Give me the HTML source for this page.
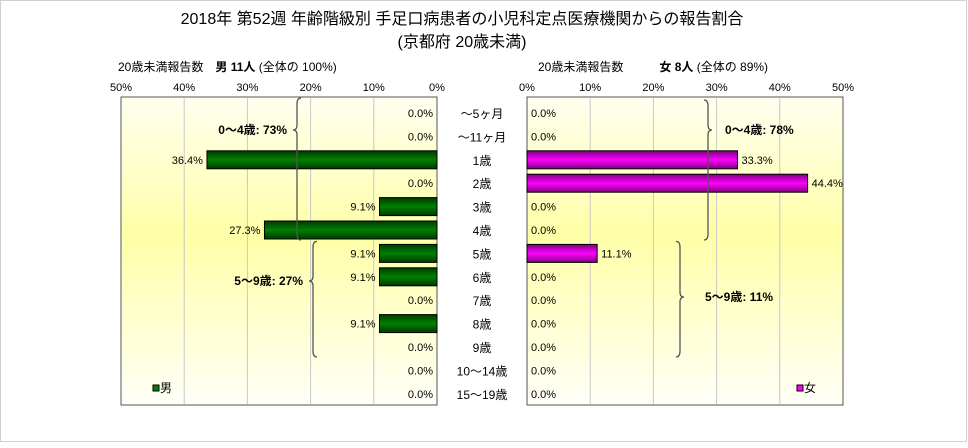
<!DOCTYPE html>
<html><head><meta charset="utf-8">
<style>
body{margin:0;background:#fff;}
svg text{font-family:"Liberation Sans","Noto Sans CJK JP",sans-serif;}
</style></head>
<body>
<svg id="c" width="968" height="443" xmlns="http://www.w3.org/2000/svg">
<defs>
<linearGradient id="bg" x1="0" y1="0" x2="0" y2="1"><stop offset="0" stop-color="#fffff0"/><stop offset="0.45" stop-color="#ffffa8"/><stop offset="1" stop-color="#fffff8"/></linearGradient>
<linearGradient id="gm" x1="0" y1="0" x2="0" y2="1"><stop offset="0" stop-color="#003a00"/><stop offset="0.5" stop-color="#008000"/><stop offset="1" stop-color="#003a00"/></linearGradient>
<linearGradient id="gf" x1="0" y1="0" x2="0" y2="1"><stop offset="0" stop-color="#800080"/><stop offset="0.5" stop-color="#ff00ff"/><stop offset="1" stop-color="#800080"/></linearGradient>
</defs>
<rect x="0.5" y="0.5" width="966" height="441" fill="#fff" stroke="#d0d0d0"/>
<text x="462" y="24" font-size="16" text-anchor="middle">2018年 第52週 年齢階級別 手足口病患者の小児科定点医療機関からの報告割合</text>
<text x="462" y="47" font-size="16" text-anchor="middle">(京都府 20歳未満)</text>
<text x="118" y="71" font-size="12">20歳未満報告数　<tspan font-weight="bold">男  11人</tspan> (全体の  100%)</text>
<text x="538" y="71" font-size="12">20歳未満報告数　　　<tspan font-weight="bold">女  8人</tspan> (全体の  89%)</text>
<g id="g"></g>
</svg>
<script>
const categories=["～5ヶ月","～11ヶ月","1歳","2歳","3歳","4歳","5歳","6歳","7歳","8歳","9歳","10～14歳","15～19歳"];
const maleValues=[0,0,36.4,0,9.1,27.3,9.1,9.1,0,9.1,0,0,0];
const femaleValues=[0,0,33.3,44.4,0,0,11.1,0,0,0,0,0,0];
const tickLabels=["50%","40%","30%","20%","10%","0%"];
const tickValues=[50,40,30,20,10,0];
const groupLabelsMale=["0～4歳: 73%","5～9歳: 27%"];
const groupLabelsFemale=["0～4歳: 78%","5～9歳: 11%"];
const NS="http://www.w3.org/2000/svg";
const g=document.getElementById('g');
const L0=437,R0=527,W=316,TOP=97,BOT=405,MAX=50;
const xL=v=>L0-v/MAX*W, xR=v=>R0+v/MAX*W;
const rh=23.4;
const yc=i=>113+rh*i;
function mk(t,a,txt){const e=document.createElementNS(NS,t);for(const k in a)e.setAttribute(k,a[k]);if(txt!==undefined)e.textContent=txt;g.appendChild(e);return e;}
let p=mk('rect',{x:xL(MAX),y:TOP,width:W,height:BOT-TOP,fill:'url(#bg)',stroke:'#555'});


p=mk('rect',{x:R0,y:TOP,width:W,height:BOT-TOP,fill:'url(#bg)',stroke:'#555'});


tickValues.forEach((v,k)=>{
  if(v>0&&v<MAX){
    let l=mk('line',{x1:xL(v),x2:xL(v),y1:TOP+1,y2:BOT-1,stroke:'#c8c8c8'});
    
    
    l=mk('line',{x1:xR(v),x2:xR(v),y1:TOP+1,y2:BOT-1,stroke:'#c8c8c8'});
    
    
  }
  let t=mk('text',{x:xL(v),y:91,'font-size':11,'text-anchor':'middle'},tickLabels[k]);
  
  
  t=mk('text',{x:xR(v),y:91,'font-size':11,'text-anchor':'middle'},tickLabels[k]);
  
  
});
categories.forEach((c,i)=>{
  const y=yc(i);
  let t=mk('text',{x:482,y:y+5,'font-size':12,'text-anchor':'middle'},c);
  
  
  const m=maleValues[i],f=femaleValues[i];
  if(m>0){
    let b=mk('rect',{x:xL(m),y:y-9,width:L0-xL(m),height:18,fill:'url(#gm)',stroke:'#000'});
    
    
  }
  t=mk('text',{x:(m>0?xL(m)-4:L0-4),y:y+4,'font-size':11,'text-anchor':'end'},m.toFixed(1)+'%');
  
  
  if(f>0){
    let b=mk('rect',{x:R0,y:y-9,width:xR(f)-R0,height:18,fill:'url(#gf)',stroke:'#000'});
    
    
  }
  t=mk('text',{x:(f>0?xR(f)+4:R0+4),y:y+4,'font-size':11},f.toFixed(1)+'%');
  
  
});
function brace(x,y1,y2,ym,dir){
  const d=4*dir;
  const path=`M${x-d},${y1} Q${x},${y1} ${x},${y1+6} L${x},${ym-5} Q${x},${ym} ${x+d},${ym} Q${x},${ym} ${x},${ym+5} L${x},${y2-6} Q${x},${y2} ${x-d},${y2}`;
  return mk('path',{d:path,fill:'none',stroke:'#555','stroke-width':1.3});
}
let b=brace(297,TOP+1,yc(5)+10,130,-1);


b=brace(313,yc(6)-12,yc(10)+10,281,-1);


b=brace(708,TOP+3,yc(5)+10,130,1);


b=brace(680,yc(6)-12,yc(10)+10,297,1);


let t=mk('text',{x:287,y:134,'font-size':12,'font-weight':'bold','text-anchor':'end'},groupLabelsMale[0]);


t=mk('text',{x:303,y:285,'font-size':12,'font-weight':'bold','text-anchor':'end'},groupLabelsMale[1]);


t=mk('text',{x:725,y:134,'font-size':12,'font-weight':'bold'},groupLabelsFemale[0]);


t=mk('text',{x:705,y:301,'font-size':12,'font-weight':'bold'},groupLabelsFemale[1]);


let lg=mk('rect',{x:153,y:385,width:6,height:6,fill:'#008000',stroke:'#000'});


t=mk('text',{x:160,y:392,'font-size':12},'男');


lg=mk('rect',{x:797,y:385,width:6,height:6,fill:'#ff00ff',stroke:'#000'});


t=mk('text',{x:804,y:392,'font-size':12},'女');


</script>
</body></html>
